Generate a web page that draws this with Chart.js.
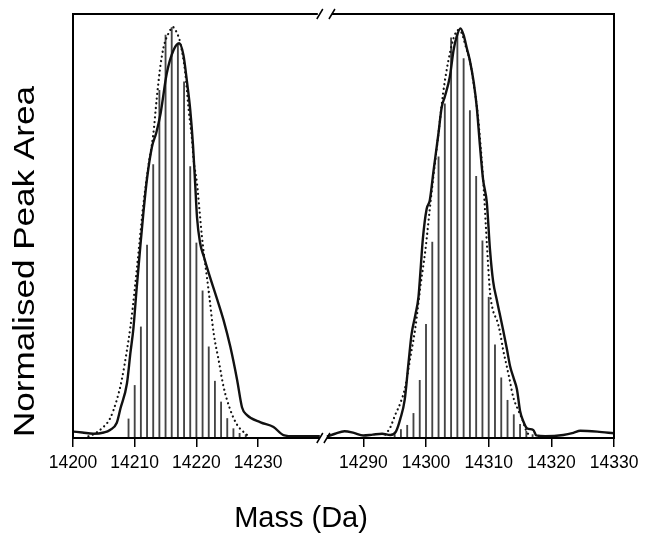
<!DOCTYPE html>
<html><head><meta charset="utf-8">
<script src="https://cdn.jsdelivr.net/npm/chart.js@4.4.0/dist/chart.umd.min.js"></script>
<style>html,body{margin:0;padding:0;background:#fff;}#wrap{width:645px;height:537px;}</style>
</head><body><div id="wrap"><canvas id="c" width="645" height="537"></canvas></div>
<script>
// ---- tick labels ----
const tickMasses = [14200, 14210, 14220, 14230, 14290, 14300, 14310, 14320, 14330];
const tickLabels = ['14200', '14210', '14220', '14230', '14290', '14300', '14310', '14320', '14330'];

// ---- stick spectrum (normalised peak area) ----
const barMassLeft = [14209,14210,14211,14212,14213,14214,14215,14216,14217,14218,14219,14220,14221,14222,14223,14224,14225,14226,14227,14228];
const barValLeft  = [0.045,0.124,0.262,0.455,0.645,0.82,0.95,0.968,0.93,0.84,0.64,0.46,0.347,0.215,0.134,0.085,0.046,0.022,0.011,0.008];
const barMassRight = [14295,14296,14297,14298,14299,14300,14301,14302,14303,14304,14305,14306,14307,14308,14309,14310,14311,14312,14313,14314,14315,14316,14317];
const barValRight  = [0.008,0.02,0.03,0.058,0.136,0.268,0.462,0.663,0.788,0.944,0.955,0.895,0.772,0.617,0.465,0.332,0.22,0.142,0.089,0.055,0.032,0.016,0.008];

// ---- measured profile (solid) ----
const solidMassLeft = [14200.1,14201.5,14203.3,14205.0,14206.0,14207.1,14207.7,14208.75,14209.3,14209.8,14210.3,14210.9,14211.4,14212.0,14212.8,14213.5,14214.2,14215.2,14216.3,14217.2,14217.9,14218.5,14219.0,14219.45,14219.8,14220.1,14220.6,14221.2,14222.0,14223.3,14224.4,14225.5,14226.6,14227.4,14228.2,14230.4,14232.5,14234.1,14236.0,14240.0];
const solidValLeft  = [0.015,0.013,0.010,0.013,0.019,0.036,0.07,0.129,0.2,0.26,0.35,0.45,0.53,0.612,0.687,0.72,0.766,0.86,0.915,0.931,0.903,0.837,0.774,0.69,0.6,0.52,0.46,0.428,0.389,0.33,0.278,0.215,0.137,0.072,0.054,0.037,0.026,0.007,0.004,0.004];
const solidMassRight = [14284.2,14285.5,14287.0,14288.5,14290.0,14291.5,14293.0,14294.3,14295.2,14295.9,14296.6,14297.2,14297.7,14298.3,14298.8,14299.1,14299.5,14300.1,14300.6,14301.2,14302.0,14302.5,14303.0,14303.8,14304.4,14304.9,14305.5,14306.0,14306.5,14307.0,14307.6,14308.1,14308.6,14309.1,14309.7,14310.2,14310.7,14311.3,14311.8,14312.3,14312.9,14313.4,14314.0,14314.5,14315.0,14315.5,14316.1,14317.1,14317.6,14319.0,14321.9,14323.5,14324.6,14327.3,14330.0];
const solidValRight  = [0.003,0.010,0.016,0.012,0.006,0.008,0.010,0.007,0.015,0.045,0.09,0.176,0.245,0.29,0.333,0.39,0.47,0.54,0.56,0.63,0.72,0.78,0.805,0.852,0.915,0.947,0.966,0.95,0.92,0.89,0.84,0.78,0.69,0.61,0.555,0.445,0.37,0.325,0.29,0.255,0.21,0.17,0.14,0.115,0.064,0.04,0.023,0.019,0.006,0.004,0.007,0.012,0.017,0.015,0.011];

// ---- simulated profile (dotted) ----
const fitMassLeft = [14202.5,14203.1,14204.7,14206.0,14207.1,14207.9,14208.75,14209.3,14210.0,14210.7,14211.4,14212.2,14213.0,14213.6,14214.15,14214.7,14215.5,14216.2,14216.75,14217.4,14218.2,14218.75,14219.3,14219.55,14220.1,14220.5,14220.9,14221.2,14221.7,14222.1,14222.8,14223.6,14224.4,14225.5,14226.6,14227.9,14228.5];
const fitValLeft  = [0.004,0.007,0.023,0.046,0.09,0.137,0.208,0.262,0.35,0.45,0.55,0.64,0.715,0.805,0.876,0.923,0.955,0.969,0.958,0.931,0.86,0.774,0.703,0.656,0.6,0.538,0.475,0.436,0.38,0.333,0.247,0.184,0.121,0.066,0.031,0.011,0.004];
const fitMassRight = [14293.5,14294.3,14295.1,14295.9,14296.7,14297.5,14298.3,14299.1,14299.9,14300.6,14301.2,14302.0,14302.7,14303.2,14303.8,14304.4,14305.1,14305.7,14306.4,14307.0,14307.6,14308.2,14308.7,14309.2,14309.7,14310.2,14310.7,14311.3,14311.8,14312.3,14312.9,14313.4,14313.9,14314.7,14315.3,14316.05,14316.6];
const fitValRight  = [0.008,0.025,0.055,0.082,0.121,0.19,0.26,0.357,0.443,0.54,0.62,0.72,0.81,0.86,0.907,0.943,0.962,0.955,0.92,0.89,0.835,0.77,0.69,0.59,0.46,0.345,0.30,0.278,0.25,0.208,0.168,0.133,0.097,0.066,0.046,0.015,0.005];

// ---- broken axis mapping ----
const AXIS_START = 14200, BREAK_START = 14240, BREAK_END = 14284.2;
const RIGHT_REF = 14290, RIGHT_POS = 47.05, RIGHT_STRETCH = 1.0162, AXIS_MAX = 87.68;
function toAxis(m) { return m <= BREAK_START ? m - AXIS_START : RIGHT_POS + (m - RIGHT_REF) * RIGHT_STRETCH; }
function pts(ms, vs) { return ms.map((m, i) => ({ x: toAxis(m), y: vs[i] })); }

const FONT = '"Liberation Sans", Arial, Helvetica, sans-serif';

const framePlugin = {
  id: 'frame',
  afterDatasetsDraw(chart) {
    const { ctx, chartArea: a, scales: { x } } = chart;
    const b1 = x.getPixelForValue(toAxis(BREAK_START));
    const b2 = x.getPixelForValue(toAxis(BREAK_END));
    ctx.save();
    ctx.strokeStyle = '#000';
    ctx.lineWidth = 2;
    ctx.lineCap = 'butt';
    ctx.beginPath();
    ctx.moveTo(a.left, a.top); ctx.lineTo(a.left, a.bottom);
    ctx.moveTo(a.right, a.top); ctx.lineTo(a.right, a.bottom);
    ctx.moveTo(a.left - 1, a.bottom); ctx.lineTo(b1, a.bottom);
    ctx.moveTo(b2, a.bottom); ctx.lineTo(a.right + 1, a.bottom);
    ctx.moveTo(a.left - 1, a.top); ctx.lineTo(b1 - 2, a.top);
    ctx.moveTo(b2 + 5, a.top); ctx.lineTo(a.right + 1, a.top);
    ctx.stroke();
    ctx.lineWidth = 1.5;
    ctx.beginPath();
    [[b1, a.bottom], [b2, a.bottom], [b1, a.top], [b2 + 5, a.top]].forEach(([px, py]) => {
      ctx.moveTo(px - 3, py + 5); ctx.lineTo(px + 3, py - 5);
    });
    ctx.stroke();
    ctx.restore();
  },
  afterDraw(chart) {
    const { ctx } = chart;
    ctx.save();
    ctx.fillStyle = '#000';
    ctx.font = '29px ' + FONT;
    ctx.textBaseline = 'middle';
    ctx.textAlign = 'center';
    ctx.fillText('Mass (Da)', 301, 519);
    ctx.translate(25.5, 437);
    ctx.rotate(-Math.PI / 2);
    ctx.scale(1.21, 1);
    ctx.textAlign = 'left';
    ctx.fillText('Normalised Peak Area', 0, 0);
    ctx.restore();
  }
};

new Chart(document.getElementById('c'), {
  type: 'bar',
  data: {
    datasets: [
      { type: 'line', label: 'Measured', data: pts(solidMassLeft, solidValLeft), borderColor: '#111', borderWidth: 2.4, pointRadius: 0, cubicInterpolationMode: 'monotone', fill: false, order: 1 },
      { type: 'line', label: 'Measured', data: pts(solidMassRight, solidValRight), borderColor: '#111', borderWidth: 2.4, pointRadius: 0, cubicInterpolationMode: 'monotone', fill: false, order: 1 },
      { type: 'line', label: 'Simulated', data: pts(fitMassLeft, fitValLeft), borderColor: '#111', borderWidth: 2.2, borderDash: [0.1, 4.6], borderCapStyle: 'round', pointRadius: 0, cubicInterpolationMode: 'monotone', fill: false, order: 2 },
      { type: 'line', label: 'Simulated', data: pts(fitMassRight, fitValRight), borderColor: '#111', borderWidth: 2.2, borderDash: [0.1, 4.6], borderCapStyle: 'round', pointRadius: 0, cubicInterpolationMode: 'monotone', fill: false, order: 2 },
      { type: 'bar', label: 'Peaks', data: pts(barMassLeft, barValLeft), backgroundColor: '#444', barThickness: 1.2, grouped: false, order: 3 },
      { type: 'bar', label: 'Peaks', data: pts(barMassRight, barValRight), backgroundColor: '#444', barThickness: 1.2, grouped: false, order: 3 }
    ]
  },
  options: {
    responsive: false,
    animation: false,
    events: [],
    layout: { padding: { top: 14, right: 31, left: 0, bottom: 0 } },
    plugins: { legend: { display: false }, tooltip: { enabled: false } },
    scales: {
      x: {
        type: 'linear', min: 0, max: AXIS_MAX, offset: false,
        border: { display: false },
        grid: { offset: false, drawOnChartArea: false, drawTicks: true, tickLength: 9, color: '#000', lineWidth: 1.5 },
        afterBuildTicks: (s) => { s.ticks = tickMasses.map(m => ({ value: toAxis(m) })); },
        afterFit: (s) => { s.height = 99; },
        ticks: { autoSkip: false, maxRotation: 0, padding: 6, color: '#000', font: { family: FONT, size: 17.5 },
                 callback: (v, i) => tickLabels[i] }
      },
      y: {
        min: 0, max: 1,
        border: { display: false },
        grid: { display: false },
        ticks: { display: false },
        afterFit: (s) => { s.width = 73; }
      }
    }
  },
  plugins: [framePlugin]
});
</script>
</body></html>
